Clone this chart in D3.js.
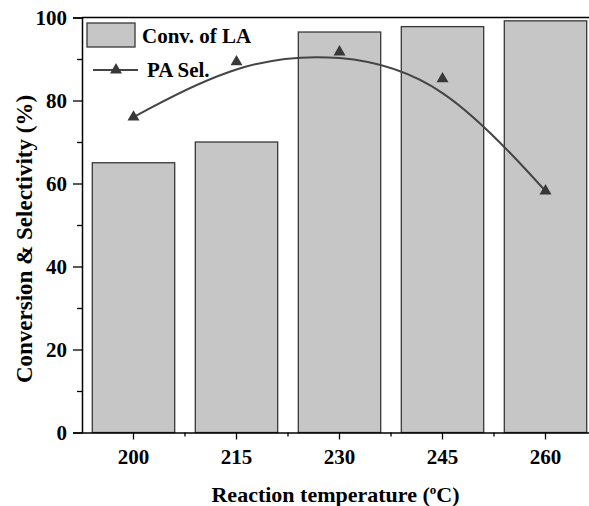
<!DOCTYPE html>
<html>
<head>
<meta charset="utf-8">
<script src="https://cdn.jsdelivr.net/npm/d3@7"></script>
<style>
  body { margin: 0; background: #fff; }
  text { font-family: "Liberation Serif", "Times New Roman", serif; font-weight: bold; fill: #000; }
</style>
</head>
<body>
<svg id="chart"></svg>
<script>
const temps = ["200", "215", "230", "245", "260"];
const convLA = [65, 70, 96.5, 97.8, 99.2];
const selPA = [76, 89.3, 91.7, 85.2, 58.2];
const yTicks = [0, 20, 40, 60, 80, 100];
const yMinor = [10, 30, 50, 70, 90];

const WIDTH = 589, HEIGHT = 506;
const LEFT = 82, TOP = 17.5, BOTTOM = 432.5, RIGHT = 597;

const BAR_FILL = "#c6c6c6", DARK = "#383838";

const svg = d3.select("#chart").attr("width", WIDTH).attr("height", HEIGHT);

const x = d3.scaleBand()
    .domain(temps)
    .range([LEFT, RIGHT])
    .paddingInner(0.2)
    .paddingOuter(0.1);

const y = d3.scaleLinear().domain([0, 100]).range([BOTTOM, TOP]);

// bars
svg.selectAll(".bar")
    .data(temps)
    .enter()
    .append("rect")
    .attr("class", "bar")
    .attr("x", (d) => x(d))
    .attr("width", x.bandwidth())
    .attr("y", (d, i) => y(convLA[i]))
    .attr("height", (d, i) => y(0) - y(convLA[i]))
    .attr("fill", BAR_FILL)
    .attr("stroke", DARK)
    .attr("stroke-width", 1.3);

// frame top line
svg.append("line")
    .attr("x1", LEFT).attr("x2", WIDTH)
    .attr("y1", y(100)).attr("y2", y(100))
    .attr("stroke", "#000").attr("stroke-width", 1.5);

// y axis
const yAxis = svg.append("g")
    .attr("transform", `translate(${LEFT},0)`)
    .call(d3.axisLeft(y).tickValues(yTicks).tickSize(9).tickPadding(6));
svg.append("g")
    .attr("transform", `translate(${LEFT},0)`)
    .call(d3.axisLeft(y).tickValues(yMinor).tickSize(5).tickFormat(""))
    .select(".domain").remove();

// x axis
const xAxis = svg.append("g")
    .attr("transform", `translate(0,${BOTTOM})`)
    .call(d3.axisBottom(x).tickSize(7).tickPadding(10).tickSizeOuter(0));
const mids = temps.slice(1).map((d) => x(d) - x.step() * x.paddingInner() / 2);
svg.append("g")
    .selectAll("line")
    .data(mids)
    .enter()
    .append("line")
    .attr("x1", (d) => d).attr("x2", (d) => d)
    .attr("y1", BOTTOM).attr("y2", BOTTOM + 4)
    .attr("stroke", "#000").attr("stroke-width", 1.3);

svg.selectAll(".domain").attr("stroke", "#000").attr("stroke-width", 1.5);
svg.selectAll(".tick line").attr("stroke", "#000").attr("stroke-width", 1.3);
svg.selectAll(".tick text")
    .style("font-family", '"Liberation Serif", serif')
    .style("font-weight", "bold")
    .style("font-size", "21px")
    .attr("fill", "#000");

// selectivity curve (B-spline through points) and markers
const line = d3.line()
    .x((d, i) => x(temps[i]) + x.bandwidth() / 2)
    .y((d) => y(d))
    .curve(d3.curveBasis);

svg.append("path")
    .datum(selPA)
    .attr("d", line)
    .attr("fill", "none")
    .attr("stroke", "#444")
    .attr("stroke-width", 2);

const tri = d3.symbol().type(d3.symbolTriangle).size(62);
svg.selectAll(".marker")
    .data(selPA)
    .enter()
    .append("path")
    .attr("class", "marker")
    .attr("d", tri)
    .attr("transform", (d, i) => `translate(${x(temps[i]) + x.bandwidth() / 2},${y(d)})`)
    .attr("fill", DARK);

// legend
const legend = svg.append("g");
legend.append("rect")
    .attr("x", 87).attr("y", 23).attr("width", 48).attr("height", 24)
    .attr("fill", BAR_FILL).attr("stroke", DARK).attr("stroke-width", 1.3);
legend.append("text")
    .attr("x", 142).attr("y", 43)
    .style("font-size", "21px")
    .text("Conv. of LA");
legend.append("line")
    .attr("x1", 93).attr("x2", 138)
    .attr("y1", 70).attr("y2", 70)
    .attr("stroke", "#444").attr("stroke-width", 2);
legend.append("path")
    .attr("d", tri)
    .attr("transform", "translate(116,70)")
    .attr("fill", DARK);
legend.append("text")
    .attr("x", 147).attr("y", 77)
    .style("font-size", "21px")
    .text("PA Sel.");

// axis titles
const xt = svg.append("text")
    .attr("x", 335.5).attr("y", 502)
    .attr("text-anchor", "middle")
    .style("font-size", "22px");
xt.append("tspan").text("Reaction temperature (");
xt.append("tspan").attr("dy", -8).style("font-size", "13px").text("o");
xt.append("tspan").attr("dy", 8).text("C)");

svg.append("text")
    .attr("transform", "translate(32,239) rotate(-90)")
    .attr("text-anchor", "middle")
    .style("font-size", "23px")
    .text("Conversion & Selectivity (%)");
</script>
</body>
</html>
